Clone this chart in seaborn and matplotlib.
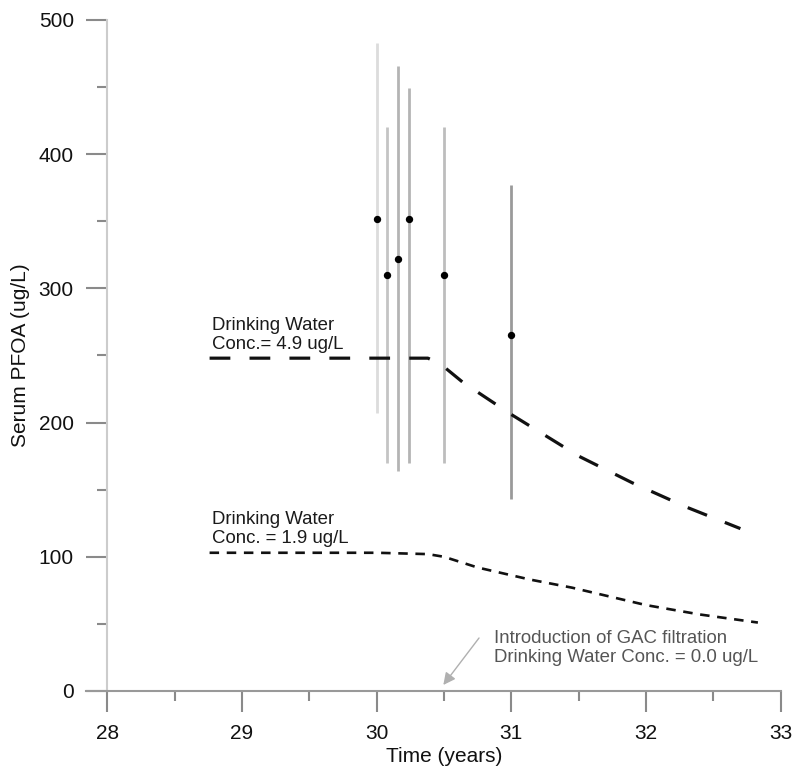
import numpy as np
import pandas as pd
import matplotlib
matplotlib.use("Agg")
import matplotlib.pyplot as plt
from matplotlib.ticker import MultipleLocator
import seaborn as sns

# observed serum PFOA (mean and range)
obs_time = [30.0, 30.08, 30.16, 30.24, 30.5, 31.0]
obs_mean = [352, 310, 322, 352, 310, 265]
obs_low = [207, 170, 164, 170, 170, 143]
obs_high = [483, 420, 466, 449, 420, 377]
bar_grey = ['#dcdcdc', '#c4c4c4', '#b4b4b4', '#b4b4b4', '#bdbdbd', '#9a9a9a']

# model curves
hi_time = [28.76, 29.5, 30.0, 30.38, 30.47, 30.64, 31.0, 31.5, 31.9, 32.3, 32.7]
hi_val = [248, 248, 248, 248, 244, 230, 206, 175, 155, 137, 121]
lo_time = [28.76, 29.5, 30.0, 30.38, 30.5, 30.75, 31.14, 31.45, 32.0, 32.4, 32.83]
lo_val = [103, 103, 103, 102, 100, 92, 83, 77, 64, 57, 51]

hi = pd.DataFrame({'t': hi_time, 'v': hi_val})
lo = pd.DataFrame({'t': lo_time, 'v': lo_val})
obs = pd.DataFrame({'t': obs_time, 'v': obs_mean})

sns.set_style("ticks")
plt.rcParams['font.family'] = ['Liberation Sans', 'DejaVu Sans']

fig = plt.figure(figsize=(8, 7.83), dpi=100)
ax = fig.add_axes([0.134, 0.1175, 0.842, 0.857])

ax.vlines(obs_time, obs_low, obs_high, colors=bar_grey, linewidth=2, zorder=2)

sns.lineplot(data=hi, x='t', y='v', ax=ax, color='#111111', linewidth=2.3,
             zorder=3).lines[-1].set_dashes((6.5, 6))
sns.lineplot(data=lo, x='t', y='v', ax=ax, color='#111111', linewidth=1.9,
             zorder=3).lines[-1].set_dashes((3.6, 2.9))
sns.scatterplot(data=obs, x='t', y='v', ax=ax, color='black', s=28,
                edgecolor='black', linewidth=0, zorder=4)

ax.text(28.78, 252, "Drinking Water\nConc.= 4.9 ug/L", fontsize=13.4,
        color='#1a1a1a', va='bottom', ha='left', linespacing=1.15)
ax.text(28.78, 107, "Drinking Water\nConc. = 1.9 ug/L", fontsize=13.4,
        color='#1a1a1a', va='bottom', ha='left', linespacing=1.15)
ax.text(30.87, 18.5, "Introduction of GAC filtration\nDrinking Water Conc. = 0.0 ug/L",
        fontsize=13.4, color='#555555', va='bottom', ha='left', linespacing=1.2)
ax.annotate("", xy=(30.495, 4.5), xytext=(30.76, 39.5),
            arrowprops=dict(arrowstyle='-|>', color='#b0b0b0', lw=1,
                            mutation_scale=18, shrinkA=0, shrinkB=0))

ax.set_xlim(28, 33)
ax.set_ylim(0, 500)
ax.xaxis.set_major_locator(MultipleLocator(1))
ax.xaxis.set_minor_locator(MultipleLocator(0.5))
ax.yaxis.set_major_locator(MultipleLocator(100))
ax.yaxis.set_minor_locator(MultipleLocator(50))
ax.tick_params(which='major', length=15, width=1.5, color='#8a8a8a',
               labelsize=15, labelcolor='#111111', pad=9)
ax.tick_params(which='minor', length=7.5, width=1.5, color='#8a8a8a')

for side in ['top', 'right']:
    ax.spines[side].set_visible(False)
ax.spines['left'].set_color('#cccccc')
ax.spines['left'].set_linewidth(1.5)
ax.spines['bottom'].set_color('#999999')
ax.spines['bottom'].set_linewidth(1.5)
ax.spines['bottom'].set_bounds(27.84, 33)

ax.set_xlabel("Time (years)", fontsize=15, color='#111111', labelpad=3)
ax.set_ylabel("Serum PFOA (ug/L)", fontsize=15, color='#111111', labelpad=6)

fig.savefig("out.png", dpi=100)
